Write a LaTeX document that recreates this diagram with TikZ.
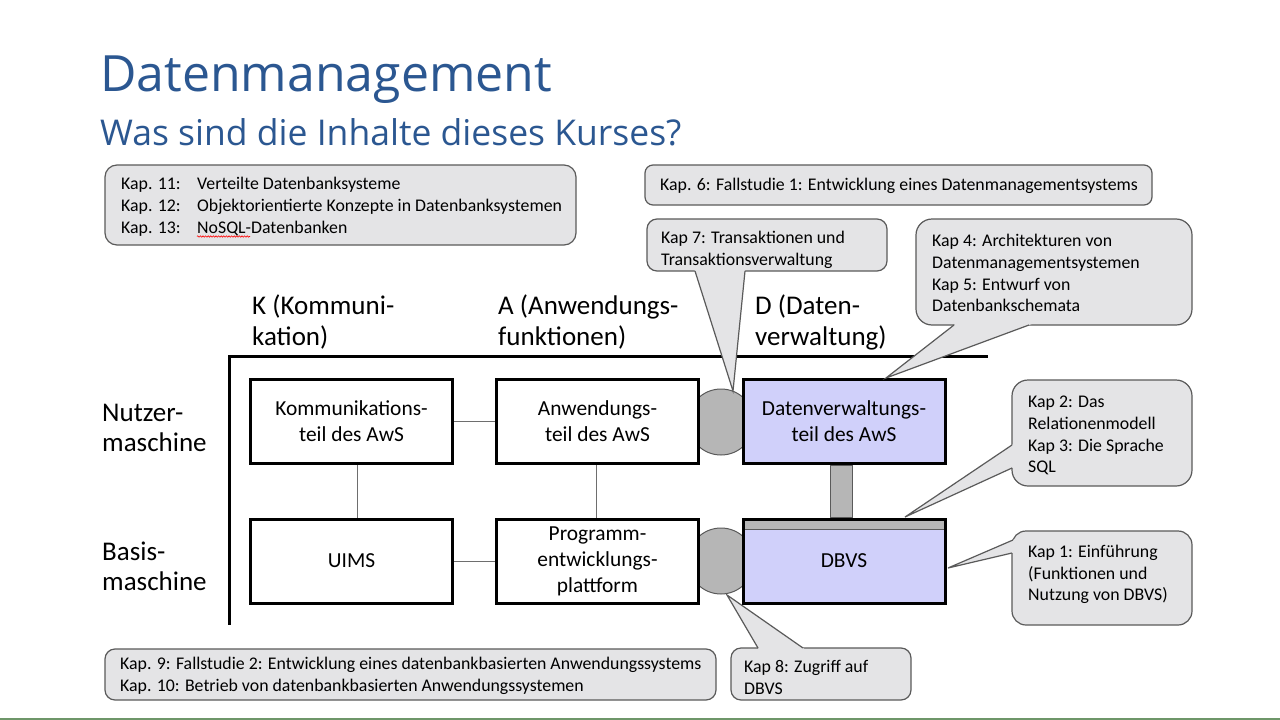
\documentclass[tikz,border=0pt]{standalone}
\usepackage{fontspec}
\setmainfont{Carlito}
\newfontfamily\titlefont{Open Sans}
\usetikzlibrary{calc,decorations.pathmorphing}
\definecolor{titleblue}{RGB}{43,87,145}
\definecolor{cfill}{RGB}{228,228,230}
\definecolor{cline}{RGB}{90,90,90}
\definecolor{lav}{RGB}{208,208,250}
\definecolor{gfill}{RGB}{182,182,182}
\definecolor{conncol}{RGB}{110,110,110}
\definecolor{greenline}{RGB}{110,150,105}
\newcommand{\cptr}[3]{%
  \fill[cfill] ($(#1)!-5pt!(#2)$) -- (#2) -- ($(#3)!-5pt!(#2)$) -- cycle;
  \draw[cline, line width=1.2pt, line join=miter] (#1) -- (#2) -- (#3);}
\begin{document}
\begin{tikzpicture}[x=1pt,y=-1pt,
  callbox/.style={draw=cline, fill=cfill, line width=1.2pt},
  ct/.style={inner sep=0pt, anchor=base west, font=\fontsize{17.8}{21}\selectfont},
  hdr/.style={inner sep=0pt, anchor=base west, font=\fontsize{27}{32}\selectfont},
  dbox/.style={draw=black, line width=3pt, fill=white, minimum width=202pt, minimum height=84pt,
    inner sep=0pt, align=center, font=\fontsize{21.4}{26}\selectfont},
  conn/.style={draw=conncol, line width=1pt},
  gshape/.style={draw=cline, fill=gfill, line width=1pt}]
\useasboundingbox (0,0) rectangle (1280,720);
\fill[white] (0,0) rectangle (1280,720);

% title
\node[inner sep=0pt, anchor=base west, text=titleblue, font=\titlefont\fontsize{50}{60}\selectfont] (title) at (100,91) {Datenmanagement};
\node[inner sep=0pt, anchor=base west, text=titleblue, font=\titlefont\fontsize{35.5}{42}\selectfont] (subtitle) at (100,145) {Was sind die Inhalte dieses Kurses?};

% axes
\draw[black, line width=3pt] (228,356) -- (988,356);
\draw[black, line width=3pt] (229,356) -- (229,625);

% headers
\node[hdr] (hk1) at (252,314) {K (Kommuni-};
\node[hdr] (hk2) at (252,345) {kation)};
\node[hdr] (ha1) at (498,314) {A (Anwendungs-};
\node[hdr] (ha2) at (498,345) {funktionen)};
\node[hdr] (hd1) at (755,314) {D (Daten-};
\node[hdr] (hd2) at (755,345) {verwaltung)};
\node[hdr] (rn1) at (102,421) {Nutzer-};
\node[hdr] (rn2) at (102,451) {maschine};
\node[hdr] (rb1) at (102,560) {Basis-};
\node[hdr] (rb2) at (102,590) {maschine};

% circles behind boxes
\node[gshape, circle, minimum size=66pt, inner sep=0pt] (c1) at (721,422) {};
\node[gshape, circle, minimum size=66pt, inner sep=0pt] (c2) at (721,561) {};

% boxes
\node[dbox] (kt) at (351.5,421.5) {Kommunikations-\\teil des AwS};
\node[dbox] (at) at (597.5,421.5) {Anwendungs-\\teil des AwS};
\node[dbox, fill=lav] (dt) at (844,421.5) {Datenverwaltungs-\\teil des AwS};
\node[dbox] (kb) at (351.5,561) {UIMS};
\node[dbox] (ab) at (597.5,561) {Programm-\\entwicklungs-\\plattform};
\node[dbox, fill=lav, path picture={
   \fill[gfill] (path picture bounding box.north west) rectangle ($(path picture bounding box.north east)+(0,10)$);
   \draw[cline, line width=1pt] ($(path picture bounding box.north west)+(0,10)$) -- ($(path picture bounding box.north east)+(0,10)$);
  }] (db) at (844,561) {\rule{0pt}{10pt}DBVS};

% connectors
\draw[conn] (kt) -- (at);
\draw[conn] (kb) -- (ab);
\draw[conn] ($(kt.south)+(5.5,0)$) -- ($(kb.north)+(5.5,0)$);
\draw[conn] ($(at.south)+(-1.5,0)$) -- ($(ab.north)+(-1.5,0)$);
\draw[gshape] ($(dt.south)+(-14,0)$) rectangle ($(db.north)+(8,0)$);

% callout: Kap 11-13
\draw[callbox, rounded corners=12pt] (105,165) rectangle (576,245);
\node[ct] (k11) at (121,189) {\makebox[76pt][l]{Kap. 11:}Verteilte Datenbanksysteme};
\node[ct] (k12) at (121,211) {\makebox[76pt][l]{Kap. 12:}Objektorientierte Konzepte in Datenbanksystemen};
\node[ct] (k13) at (121,233) {\makebox[76pt][l]{Kap. 13:}NoSQL-Datenbanken};
\draw[red, line width=0.6pt, decorate, decoration={snake, amplitude=0.7pt, segment length=2.6pt}] (197,236.5) -- (250,236.5);

% callout: Kap 6
\draw[callbox, rounded corners=8pt] (645,165) rectangle (1152,205);
\node[ct] (k6) at (660,190) {Kap. 6: Fallstudie 1: Entwicklung eines Datenmanagementsystems};

% callout: Kap 7
\draw[callbox, rounded corners=10pt] (647,219) rectangle (887,271);
\cptr{695,271}{733,391}{745,271}
\node[ct] (k7a) at (661,243) {Kap 7: Transaktionen und};
\node[ct] (k7b) at (661,265) {Transaktionsverwaltung};

% callout: Kap 4/5
\draw[callbox, rounded corners=16pt] (916,219) rectangle (1192,325);
\cptr{954,325}{886,378}{1029,325}
\node[ct] (k4a) at (932,246) {Kap 4: Architekturen von};
\node[ct] (k4b) at (932,268) {Datenmanagementsystemen};
\node[ct] (k5a) at (932,290) {Kap 5: Entwurf von};
\node[ct] (k5b) at (932,311) {Datenbankschemata};

% callout: Kap 2/3
\draw[callbox, rounded corners=16pt] (1012,380) rectangle (1192,486);
\cptr{1012,445}{905,517}{1012,468}
\node[ct] (k2a) at (1028,407) {Kap 2: Das};
\node[ct] (k2b) at (1028,429) {Relationenmodell};
\node[ct] (k3a) at (1028,451) {Kap 3: Die Sprache};
\node[ct] (k3b) at (1028,472) {SQL};

% callout: Kap 1
\draw[callbox, rounded corners=14pt] (1012,531) rectangle (1192,625);
\cptr{1013,540}{948,568}{1012,553}
\node[ct] (k1a) at (1028,557) {Kap 1: Einführung};
\node[ct] (k1b) at (1028,579) {(Funktionen und};
\node[ct] (k1c) at (1028,600) {Nutzung von DBVS)};

% callout: Kap 9/10
\draw[callbox, rounded corners=10pt] (105,649) rectangle (716,700);
\node[ct] (k9) at (120,669) {Kap. 9: Fallstudie 2: Entwicklung eines datenbankbasierten Anwendungssystems};
\node[ct] (k10) at (120,691) {Kap. 10: Betrieb von datenbankbasierten Anwendungssystemen};

% callout: Kap 8
\draw[callbox, rounded corners=10pt] (731,648) rectangle (911,700);
\cptr{758,648}{727,595}{803,648}
\node[ct] (k8a) at (744,672) {Kap 8: Zugriff auf};
\node[ct] (k8b) at (744,694) {DBVS};

% bottom line
\draw[greenline, line width=1.5pt] (0,719) -- (1280,719);
\end{tikzpicture}
\end{document}
